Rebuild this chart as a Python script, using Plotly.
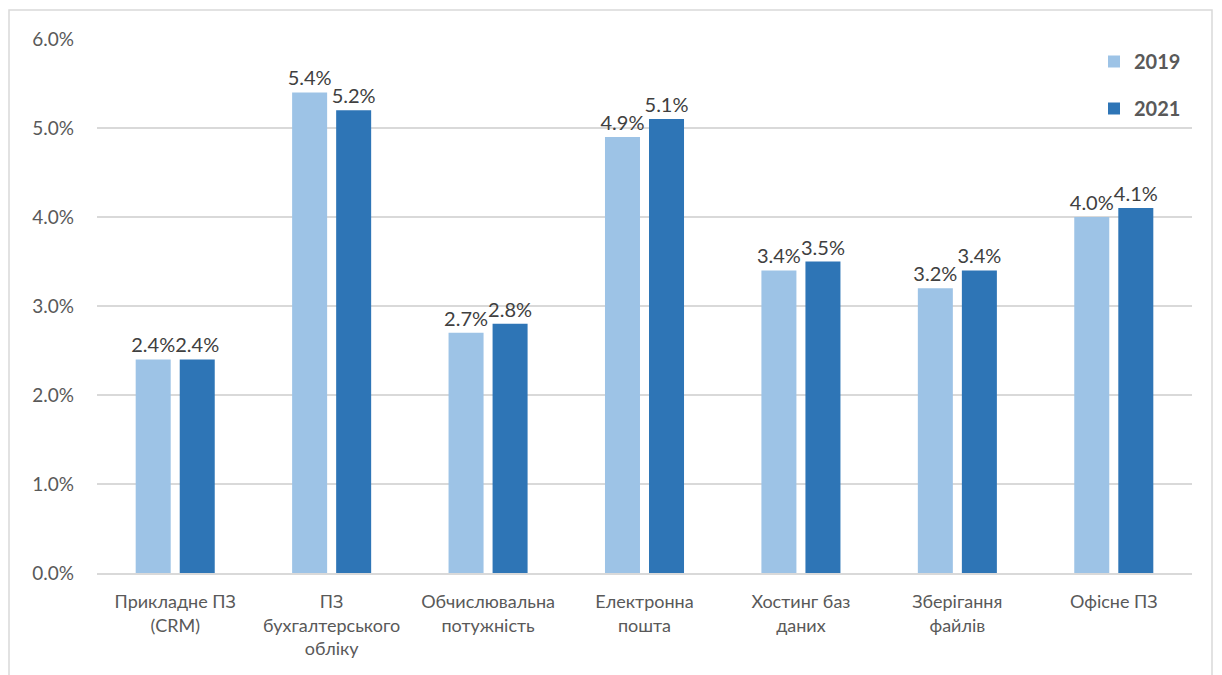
import plotly.graph_objects as go

categories = [
    "Прикладне ПЗ<br>(CRM)",
    "ПЗ<br>бухгалтерського<br>обліку",
    "Обчислювальна<br>потужність",
    "Електронна<br>пошта",
    "Хостинг баз<br>даних",
    "Зберігання<br>файлів",
    "Офісне ПЗ",
]
values_2019 = [2.4, 5.4, 2.7, 4.9, 3.4, 3.2, 4.0]
values_2021 = [2.4, 5.2, 2.8, 5.1, 3.5, 3.4, 4.1]
series_names = ["2019", "2021"]
y_ticks = [0, 1, 2, 3, 4, 5, 6]
y_tick_labels = ["0.0%", "1.0%", "2.0%", "3.0%", "4.0%", "5.0%", "6.0%"]

FONT = "Lato, 'Open Sans', sans-serif"
colors = ["#9DC3E6", "#2E75B6"]

fig = go.Figure()
for name, vals, col in zip(series_names, [values_2019, values_2021], colors):
    fig.add_trace(go.Bar(
        x=categories, y=vals, name=name, legendgroup=name,
        marker=dict(color=col, line=dict(width=0)),
        text=[f"{v:.1f}%" for v in vals], textposition="outside",
        textfont=dict(size=20, color="#404040", family=FONT),
        constraintext="none", cliponaxis=False,
    ))

L, R, T, B = 97, 30, 39, 102
W, H = 1222, 675
pw, ph = W - L - R, H - T - B

def px_x(p):
    return (p - L) / pw

def px_y(p):
    return (H - B - p) / ph

fig.update_layout(
    width=W, height=H,
    margin=dict(l=L, r=R, t=T, b=B),
    paper_bgcolor="white", plot_bgcolor="white",
    barmode="group", bargap=0.437, bargroupgap=0.205,
    font=dict(family=FONT, color="#595959"),
    legend=dict(
        x=px_x(1094), y=px_y(42), xanchor="left", yanchor="top",
        font=dict(size=20, color="#595959", family=FONT, weight="bold"),
        tracegroupgap=18, itemwidth=30, bgcolor="rgba(0,0,0,0)",
    ),
    xaxis=dict(
        showgrid=False, showline=True, linecolor="#D9D9D9", linewidth=1.5,
        ticks="", ticklabelstandoff=12,
        tickfont=dict(size=18, color="#595959", family=FONT),
    ),
    yaxis=dict(
        range=[0, 6], tickvals=y_ticks, ticktext=y_tick_labels,
        showgrid=True, gridcolor="#D9D9D9", gridwidth=1.5, zeroline=False,
        showline=False, ticks="", ticklabelstandoff=22,
        tickfont=dict(size=19, color="#595959", family=FONT),
    ),
    shapes=[dict(
        type="rect", xref="paper", yref="paper",
        x0=px_x(9), x1=px_x(1212), y0=px_y(690), y1=px_y(10),
        line=dict(color="#D9D9D9", width=1.5), layer="below",
    )],
)

fig.write_html("out.html")
